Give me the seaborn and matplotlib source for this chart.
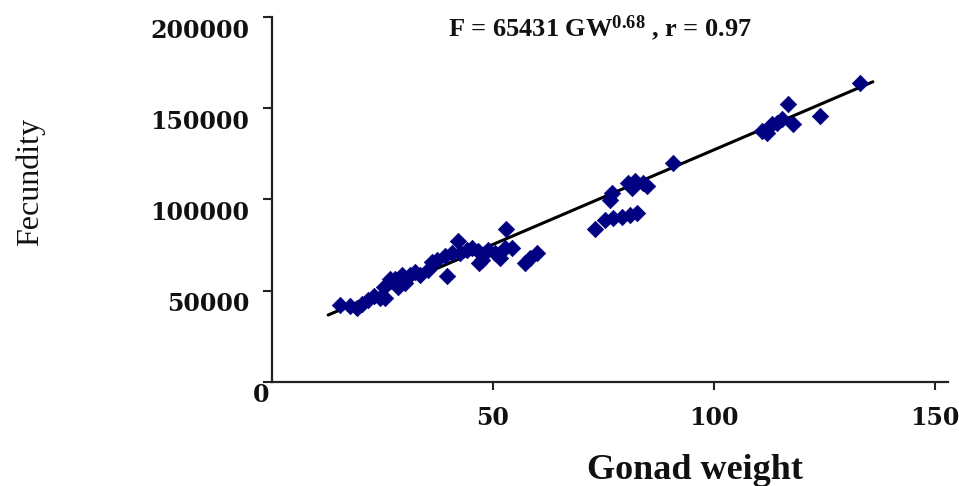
import matplotlib
matplotlib.use("Agg")
import matplotlib.pyplot as plt
import matplotlib.transforms as mtransforms
import seaborn as sns
import pandas as pd

# ---- data ----
gonad_weight = [15.4, 17.6, 19.2, 20.4, 21.7, 23.1, 24.4, 25.6, 25.3, 26.7,
                27.8, 28.5, 29.4, 30.1, 31.2, 32.4, 33.5, 35.3, 36.2, 37.3,
                39.1, 39.6, 40.7, 42.1, 42.5, 44.1, 45.2, 46.6, 46.8, 47.5,
                48.9, 50.5, 51.6, 52.9, 52.7, 54.3, 57.2, 58.4, 59.9,
                73.1, 75.3, 77.1, 79.2, 81.0, 82.6, 76.9, 76.5, 80.5, 82.1,
                83.9, 84.8, 81.4, 90.7,
                110.9, 112.0, 113.1, 114.3, 115.4, 117.9, 116.7, 124.0, 133.0]
fecundity = [42000, 41800, 40300, 42900, 44900, 46900, 45900, 45900, 52100, 56300,
             56300, 52100, 58400, 54200, 58400, 60500, 58400, 61600, 65800, 66800,
             68900, 57900, 70500, 77400, 70500, 72100, 73200, 71600, 65300, 66800,
             72100, 70500, 67900, 83700, 73200, 73200, 65300, 67900, 70500,
             83700, 89000, 90000, 90500, 91600, 92600, 103300, 99500, 109200, 110300,
             109200, 107600, 106500, 120100,
             137500, 136400, 141300, 141800, 144000, 141300, 152500, 145700, 163750]
fit_x = [12.7, 136.0]
fit_y = [36700, 164500]

x_ticks = [50, 100, 150]
y_ticks = [0, 50000, 100000, 150000, 200000]
y_tick_labels = ["", "50000", "100000", "150000", "200000"]

title_text = "F = 65431 GW$^{0.68}$ , r = 0.97"
x_label = "Gonad weight"
y_label = "Fecundity"

df = pd.DataFrame({"gw": gonad_weight, "f": fecundity})
fit_df = pd.DataFrame({"gw": fit_x, "f": fit_y})

sns.set_theme(style="white")
plt.rcParams["mathtext.default"] = "regular"

fig = plt.figure(figsize=(9.59, 4.86), dpi=100)
ax = fig.add_axes([272 / 959, 1 - 382 / 486, (948 - 272) / 959, (382 - 17) / 486])

sns.lineplot(data=fit_df, x="gw", y="f", ax=ax, color="black", linewidth=2.2,
             zorder=2)
sns.scatterplot(data=df, x="gw", y="f", ax=ax, marker="D", s=70,
                color="#000080", edgecolor="#000080", linewidth=0.5, zorder=3)

ax.set_xlim(0, 153)
ax.set_ylim(0, 200000)
ax.set_xticks(x_ticks)
ax.set_yticks(y_ticks)
ax.set_yticklabels(y_tick_labels)
ax.set_xticklabels([str(v) for v in x_ticks])

for s in ["top", "right"]:
    ax.spines[s].set_visible(False)
for s in ["left", "bottom"]:
    ax.spines[s].set_color("#222222")
    ax.spines[s].set_linewidth(1.6)

tick_font = dict(family="DejaVu Serif", weight="bold", size=17)
ax.tick_params(axis="both", which="both", direction="out", color="#222222",
               width=1.5, left=True, bottom=True)
ax.tick_params(axis="y", length=6.5, pad=10)
ax.tick_params(axis="x", length=6, pad=11)
for lab in ax.get_xticklabels() + ax.get_yticklabels():
    lab.set_fontfamily("DejaVu Serif")
    lab.set_fontweight("bold")
    lab.set_fontsize(17)
    lab.set_color("#111111")

shift = mtransforms.ScaledTranslation(0, -8 / 72, fig.dpi_scale_trans)
for lab in ax.get_yticklabels():
    lab.set_transform(lab.get_transform() + shift)

ax.annotate("0", xy=(0, 0), xycoords="data", xytext=(-11, -13),
            textcoords="offset pixels", ha="center", va="center",
            **tick_font, color="#111111")

ax.set_xlabel("")
ax.set_ylabel("")
fig.text(695 / 959, 1 - 470 / 486, x_label, ha="center", va="center",
         family="Liberation Serif", weight="bold", size=26, color="#111111")
fig.text(30 / 959, 1 - 182 / 486, y_label, ha="center", va="center",
         rotation=90, family="Liberation Serif", size=23, color="#111111")
fig.text(600 / 959, 1 - 28 / 486, title_text, ha="center", va="center",
         family="Liberation Serif", weight="bold", size=19, color="#111111")

fig.savefig("out.png", dpi=100)
